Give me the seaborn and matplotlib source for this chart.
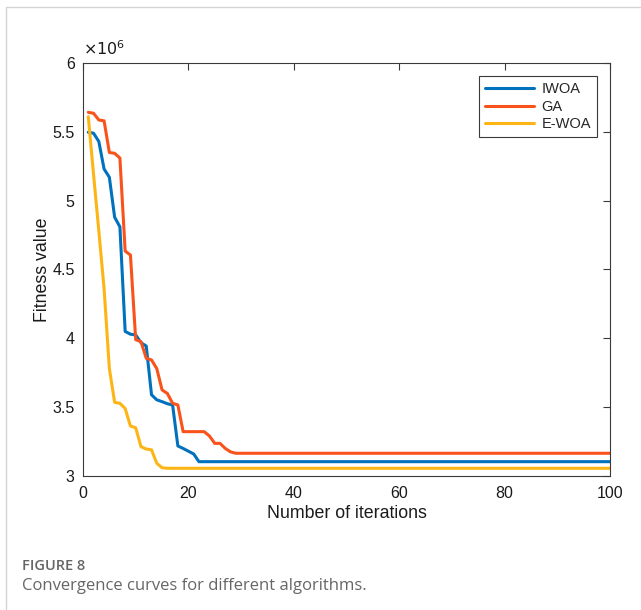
"""
Convergence curves for IWOA, GA and E-WOA (Figure 8 recreation).
"""

import pandas as pd
import numpy as np
import matplotlib
matplotlib.use("Agg")
import matplotlib.pyplot as plt
from matplotlib.lines import Line2D
from matplotlib.ticker import FormatStrFormatter
import seaborn as sns

sns.set_style("white")
plt.rcParams["font.family"] = ["Liberation Sans", "DejaVu Sans"]

# fitness values (x1e6), iterations 1..100
iwoa = [5.497, 5.49, 5.43, 5.23, 5.17, 4.88, 4.81, 4.05, 4.03, 4.025,
        3.968, 3.944, 3.59, 3.553, 3.54, 3.525, 3.516, 3.218, 3.20, 3.18,
        3.16] + [3.104] * 79
ga = [5.642, 5.635, 5.586, 5.58, 5.35, 5.344, 5.31, 4.634, 4.605, 3.99,
      3.976, 3.855, 3.843, 3.78, 3.625, 3.60, 3.528, 3.516, 3.322, 3.322,
      3.322, 3.322, 3.322, 3.29, 3.237, 3.237, 3.20, 3.175] + [3.165] * 72
ewoa = [5.61, 5.19, 4.78, 4.36, 3.78, 3.535, 3.528, 3.49, 3.363, 3.35,
        3.213, 3.196, 3.19, 3.092, 3.06] + [3.056] * 85
iterations = list(range(1, 101))
algorithms = ["IWOA", "GA", "E-WOA"]
colors = ["#0072BD", "#F9531B", "#FDB515"]
y_ticks = [3, 3.5, 4, 4.5, 5, 5.5, 6]
x_ticks = [0, 20, 40, 60, 80, 100]

df = pd.DataFrame({
    "iteration": iterations * 3,
    "fitness": iwoa + ga + ewoa,
    "algorithm": np.repeat(algorithms, 100),
})

fig = plt.figure(figsize=(6.41, 6.10), dpi=100)
ax = fig.add_axes([0.1295, 0.2197, 0.8221, 0.677])
sns.lineplot(data=df, x="iteration", y="fitness", hue="algorithm",
             palette=colors, hue_order=algorithms, linewidth=2.2, ax=ax)

ax.set_xlim(0, 100)
ax.set_ylim(3, 6)
ax.set_xticks(x_ticks)
ax.set_yticks(y_ticks)
ax.yaxis.set_major_formatter(FormatStrFormatter("%g"))
ax.text(0.0, 1.012, r"$\times10^{6}$", transform=ax.transAxes, fontsize=11.5,
        color="#1a1a1a", va="bottom", ha="left")
ax.tick_params(direction="in", top=True, right=True, length=5, width=0.8,
               colors="#3a3a3a", labelcolor="#1a1a1a", labelsize=11.5)
ax.tick_params(axis="x", pad=7)
ax.tick_params(axis="y", pad=6)
for s in ax.spines.values():
    s.set_color("#3a3a3a")
    s.set_linewidth(0.8)
ax.set_xlabel("Number of iterations", fontsize=12.8, color="#1a1a1a", labelpad=3)
ax.set_ylabel("Fitness value", fontsize=12.8, color="#1a1a1a", labelpad=1)

leg = ax.legend(loc="upper right", fontsize=10.5, handlelength=3.4,
                fancybox=False, framealpha=1, borderaxespad=0.9,
                handletextpad=0.5, labelspacing=0.25)
leg.get_frame().set_edgecolor("#3a3a3a")
leg.get_frame().set_linewidth(0.8)

# page border lines (left and top)
fig.add_artist(Line2D([6 / 641, 6 / 641], [0, 1 - 7 / 610], color="#d4d4d4", lw=1))
fig.add_artist(Line2D([6 / 641, 1], [1 - 7 / 610, 1 - 7 / 610], color="#d4d4d4", lw=1))

# caption
fig.text(22 / 641, 1 - 566 / 610, "FIGURE 8", fontsize=10.5, fontweight="semibold",
         color="#666666", family=["Open Sans", "DejaVu Sans"], va="center")
fig.text(22 / 641, 1 - 586 / 610, "Convergence curves for different algorithms.",
         fontsize=12, color="#666666", family=["Open Sans", "DejaVu Sans"], va="center")

plt.savefig("out.png", dpi=100)
plt.close()
